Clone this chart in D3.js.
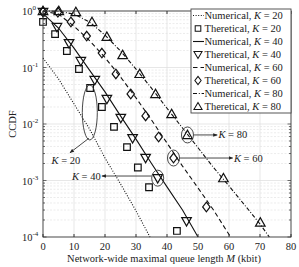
<!DOCTYPE html>
<head>
  <meta charset="utf-8">
  <style>
  body { margin: 0; background: #fff; }
  text { font-family: "Liberation Serif", "DejaVu Serif", serif; fill: #222; }
  .grid line { stroke: #dcdcdc; stroke-width: 0.7px; }
  .grid .minor { stroke-dasharray: 2,1.5; stroke: #e4e4e4; }
  .curve { fill: none; stroke: #111; stroke-width: 1.1px; }
  .mark { fill: none; stroke: #111; stroke-width: 1.2px; }
  .note { fill: none; stroke: #333; stroke-width: 0.9px; }
  </style>
</head>
<svg class="chart" width="299" height="267"></svg>

<script src="https://cdn.jsdelivr.net/npm/d3@7"></script>
<script>
// tick labels
var xTicks = [0, 10, 20, 30, 40, 50, 60, 70, 80];
var yExps = [0, -1, -2, -3, -4];

// numerical curves (M in kbit, CCDF)
var num20M = [0, 5, 10, 15, 20, 25, 30, 34.5];
var num20P = [0.147, 0.063, 0.0227, 0.0082, 0.0025, 8.7e-4, 2.9e-4, 1e-4];
var num40M = [0, 5, 10, 15, 20, 25, 30, 35, 40, 45, 50];
var num40P = [0.9, 0.5, 0.22, 0.09, 0.037, 0.0139, 0.0054, 0.002, 7.7e-4, 3.0e-4, 1.0e-4];
var num60M = [0, 5, 10, 15, 20, 25, 30, 35, 40, 45, 50, 55, 60.5];
var num60P = [1.0, 0.88, 0.54, 0.3, 0.15, 0.068, 0.029, 0.0118, 0.0046, 0.0018, 7.4e-4, 3.0e-4, 1e-4];
var num80M = [0, 5, 10, 15, 20, 25, 30, 35, 40, 45, 50, 55, 60, 65, 70, 73];
var num80P = [1, 0.99, 0.88, 0.64, 0.375, 0.196, 0.094, 0.043, 0.019, 0.0085, 0.0038, 0.0017, 8.0e-4, 3.7e-4, 1.7e-4, 1e-4];

// theoretical points
var th20M = [0, 3.9, 7.7, 11.6, 15.2, 19, 22.9, 27.1, 30.6, 34.2, 43.2];
var th20P = [0.64, 0.39, 0.196, 0.094, 0.0434, 0.020, 0.0089, 0.0039, 0.0017, 7.6e-4, 1.28e-4];
var th40M = [0, 4.5, 8.4, 12.2, 16.7, 20.6, 25.1, 28.9, 33.1, 37.0, 46.3];
var th40P = [0.96, 0.52, 0.27, 0.13, 0.06, 0.0277, 0.0128, 0.0056, 0.0025, 0.0011, 1.9e-4];
var th60M = [0, 4.8, 9.0, 14.1, 19.0, 23.5, 28.3, 33.1, 37.3, 42.1, 52.7];
var th60P = [0.97, 0.95, 0.64, 0.36, 0.18, 0.077, 0.034, 0.0139, 0.0059, 0.0025, 3.4e-4];
var th80M = [0, 5.1, 10.6, 15.8, 20.6, 25.7, 31.2, 36.3, 41.5, 46.6, 58.2, 70.1];
var th80P = [1, 1, 0.96, 0.64, 0.35, 0.166, 0.077, 0.034, 0.015, 0.0064, 0.0011, 1.8e-4];

var svg = d3.select("svg"),
  pLeft = 43, pRight = 291, pTop = 11, pBottom = 237;

var x = d3.scaleLinear().domain([0, 80]).range([pLeft, pRight]),
  y = d3.scaleLog().domain([1e-4, 1]).range([pBottom, pTop]);

var zip = function(ms, ps) { return ms.map(function(m, i) { return [m, ps[i]]; }); };

// grid
var grid = svg.append("g").attr("class", "grid");
xTicks.slice(1, -1).forEach(function(t) {
  grid.append("line").attr("x1", x(t)).attr("x2", x(t)).attr("y1", pTop).attr("y2", pBottom);
});
var minors = [];
yExps.slice(1).forEach(function(e) {
  for (var k = 2; k <= 9; k++) minors.push(k * Math.pow(10, e));
});
minors.forEach(function(v) {
  grid.append("line").attr("class", "minor").attr("x1", pLeft).attr("x2", pRight).attr("y1", y(v)).attr("y2", y(v));
});
yExps.slice(1, -1).forEach(function(e) {
  grid.append("line").attr("x1", pLeft).attr("x2", pRight).attr("y1", y(Math.pow(10, e))).attr("y2", y(Math.pow(10, e)));
});

// curves
var line = d3.line().x(function(d) { return x(d[0]); }).y(function(d) { return y(d[1]); });
var curves = [
  { pts: zip(num20M, num20P), dash: "1,1.6" },
  { pts: zip(num40M, num40P), dash: null },
  { pts: zip(num60M, num60P), dash: "4.5,3" },
  { pts: zip(num80M, num80P), dash: "4,1.8,1,1.8" }
];
curves.forEach(function(c) {
  svg.append("path").attr("class", "curve").attr("d", line(c.pts))
    .attr("stroke-dasharray", c.dash);
});

// marker shapes
function shape(kind) {
  if (kind == "square") return "M-3.3,-3.3h6.6v6.6h-6.6Z";
  if (kind == "down") return "M-4.8,-3.6L4.8,-3.6L0,4.8Z";
  if (kind == "up") return "M-4.8,3.6L4.8,3.6L0,-4.8Z";
  return "M0,-4.8L3.7,0L0,4.8L-3.7,0Z";
}
var sets = [
  { pts: zip(th20M, th20P), kind: "square" },
  { pts: zip(th40M, th40P), kind: "down" },
  { pts: zip(th60M, th60P), kind: "diamond" },
  { pts: zip(th80M, th80P), kind: "up" }
];
sets.forEach(function(s) {
  svg.selectAll(null).data(s.pts).enter().append("path")
    .attr("class", "mark")
    .attr("d", shape(s.kind))
    .attr("transform", function(d) { return "translate(" + x(d[0]) + "," + y(d[1]) + ")"; });
});

// axes frame
svg.append("rect").attr("x", pLeft).attr("y", pTop).attr("width", pRight - pLeft).attr("height", pBottom - pTop)
  .attr("fill", "none").attr("stroke", "#333").attr("stroke-width", 0.9);

var ax = svg.append("g");
xTicks.forEach(function(t) {
  ax.append("line").attr("x1", x(t)).attr("x2", x(t)).attr("y1", pBottom).attr("y2", pBottom - 3).attr("stroke", "#333");
  ax.append("line").attr("x1", x(t)).attr("x2", x(t)).attr("y1", pTop).attr("y2", pTop + 3).attr("stroke", "#333");
  ax.append("text").attr("x", x(t)).attr("y", pBottom + 13).attr("text-anchor", "middle")
    .style("font-size", "10.5px").text(t);
});
minors.concat(yExps.map(function(e) { return Math.pow(10, e); })).forEach(function(v) {
  var len = minors.indexOf(v) >= 0 ? 2 : 3.5;
  ax.append("line").attr("x1", pLeft).attr("x2", pLeft + len).attr("y1", y(v)).attr("y2", y(v)).attr("stroke", "#333").attr("stroke-width", 0.7);
  ax.append("line").attr("x1", pRight).attr("x2", pRight - len).attr("y1", y(v)).attr("y2", y(v)).attr("stroke", "#333").attr("stroke-width", 0.7);
});
yExps.forEach(function(e) {
  var t = ax.append("text").attr("x", 22).attr("y", y(Math.pow(10, e)) + 4).style("font-size", "10.5px");
  t.append("tspan").text("10");
  t.append("tspan").attr("dy", -5).style("font-size", "7px").text(e);
});

svg.append("text").attr("transform", "translate(16," + (pTop + pBottom) / 2 + ") rotate(-90)")
  .attr("text-anchor", "middle").style("font-size", "10.5px").text("CCDF");

var xt = svg.append("text").attr("x", 164).attr("y", 262).attr("text-anchor", "middle").style("font-size", "10.5px");
xt.append("tspan").text("Network-wide maximal queue length ");
xt.append("tspan").style("font-style", "italic").text("M");
xt.append("tspan").text(" (kbit)");

// annotations
svg.append("defs").append("marker").attr("id", "ah").attr("viewBox", "0 0 10 10")
  .attr("refX", 9).attr("refY", 5).attr("markerWidth", 5).attr("markerHeight", 5)
  .attr("orient", "auto").append("path").attr("d", "M0,1L10,5L0,9Z").attr("fill", "#222");

function kText(px, py, anchor, k) {
  var t = svg.append("text").attr("x", px).attr("y", py + 3.5).attr("text-anchor", anchor).style("font-size", "10.5px");
  t.append("tspan").style("font-style", "italic").text("K");
  t.append("tspan").text(" = " + k);
}
function arrow(x1, y1, x2, y2) {
  svg.append("line").attr("class", "note").attr("x1", x1).attr("y1", y1).attr("x2", x2).attr("y2", y2)
    .attr("marker-end", "url(#ah)");
}
// K = 20
svg.append("ellipse").attr("class", "note").attr("cx", x(15.1)).attr("cy", y(0.016)).attr("rx", 7.5).attr("ry", 27.5);
arrow(x(14.8), y(0.0056), x(8.7), y(0.0031));
kText(x(7.4), y(0.0023), "middle", 20);
// K = 40
svg.append("ellipse").attr("class", "note").attr("cx", x(37)).attr("cy", y(0.0011)).attr("rx", 6).attr("ry", 8);
arrow(x(35), y(0.0012), x(19), y(0.0012));
kText(x(18.6), y(0.0012), "end", 40);
// K = 60
svg.append("ellipse").attr("class", "note").attr("cx", x(42.1)).attr("cy", y(0.0025)).attr("rx", 6).attr("ry", 8);
arrow(x(44.1), y(0.0025), x(61.2), y(0.0025));
kText(x(61.6), y(0.0025), "start", 60);
// K = 80
svg.append("ellipse").attr("class", "note").attr("cx", x(46.6)).attr("cy", y(0.0064)).attr("rx", 6).attr("ry", 8);
arrow(x(48.6), y(0.0064), x(56.2), y(0.0064));
kText(x(56.6), y(0.0064), "start", 80);

// legend
var legend = [
  { name: "Numerical", k: 20, dash: "1,1.6" },
  { name: "Theretical", k: 20, kind: "square" },
  { name: "Numerical", k: 40, dash: null },
  { name: "Theretical", k: 40, kind: "down" },
  { name: "Numerical", k: 60, dash: "4.5,3" },
  { name: "Theretical", k: 60, kind: "diamond" },
  { name: "Numerical", k: 80, dash: "4,1.8,1,1.8" },
  { name: "Theretical", k: 80, kind: "up" }
];
var lg = svg.append("g");
lg.append("rect").attr("x", 191).attr("y", 9).attr("width", 100).attr("height", 104)
  .attr("fill", "#fff").attr("stroke", "#444").attr("stroke-width", 0.9);
legend.forEach(function(d, i) {
  var ly = 15.5 + 13 * i;
  if (d.kind) {
    lg.append("path").attr("class", "mark").attr("d", shape(d.kind))
      .attr("transform", "translate(198," + ly + ") scale(0.85)");
  } else {
    lg.append("line").attr("class", "curve").attr("x1", 193).attr("x2", 204)
      .attr("y1", ly).attr("y2", ly).attr("stroke-dasharray", d.dash);
  }
  var t = lg.append("text").attr("x", 204.5).attr("y", ly + 3.5).style("font-size", "10.5px");
  t.append("tspan").text(d.name + ", ");
  t.append("tspan").style("font-style", "italic").text("K");
  t.append("tspan").text(" = " + d.k);
});
</script>
